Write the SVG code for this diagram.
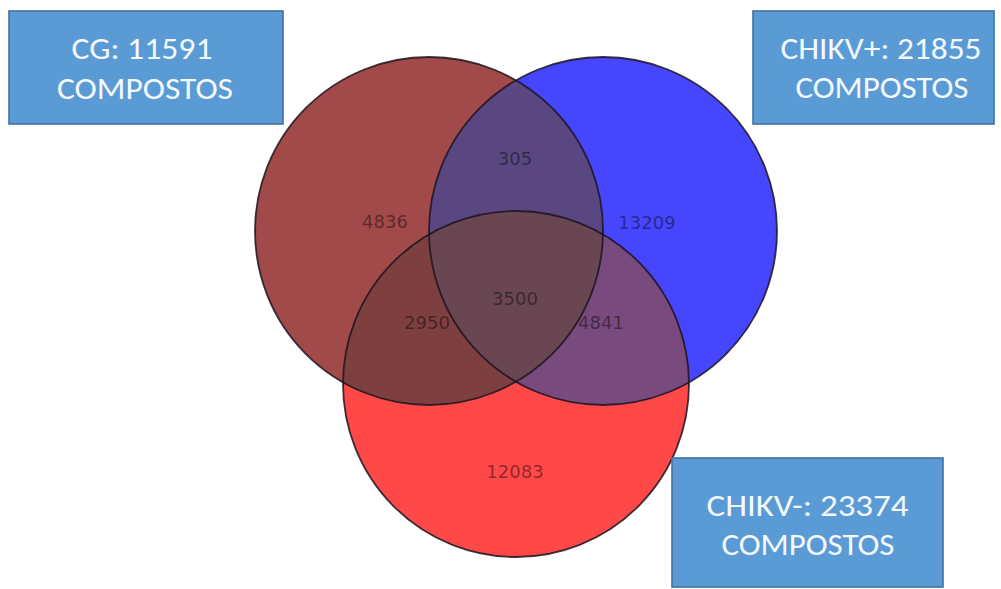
<svg xmlns="http://www.w3.org/2000/svg" width="1001" height="589" viewBox="0 0 1001 589">
  <style>
    .set-edge { fill: none; stroke: #1c1420; stroke-opacity: 0.85; stroke-width: 1.8; }
    .count { font-family: "DejaVu Sans", "Liberation Sans", sans-serif; font-size: 18px; fill: #000; fill-opacity: 0.45; text-anchor: middle; }
    .box { fill: #5b9bd5; stroke: #41719c; stroke-width: 1.6; }
    .box-text { font-family: Carlito, "Open Sans", "Liberation Sans", sans-serif; font-size: 31px; fill: #f4f9ff; text-anchor: middle; }
  </style>
  <defs>
    <clipPath id="clip-cg"><circle cx="429" cy="231" r="174"/></clipPath>
    <clipPath id="clip-pos"><circle cx="603" cy="231" r="174"/></clipPath>
    <clipPath id="clip-neg"><circle cx="516" cy="384" r="173"/></clipPath>
  </defs>

  <rect x="0" y="0" width="1001" height="589" fill="#ffffff"/>

  <!-- Venn sets: base fills -->
  <g id="set-cg">
    <circle cx="429" cy="231" r="174" fill="#a24a4a"/>
  </g>
  <g id="set-chikv-pos">
    <circle cx="603" cy="231" r="174" fill="#4646ff"/>
  </g>
  <g id="set-chikv-neg">
    <circle cx="516" cy="384" r="173" fill="#ff4848"/>
  </g>

  <!-- pairwise and triple overlaps -->
  <g id="overlaps">
    <g clip-path="url(#clip-cg)"><circle cx="603" cy="231" r="174" fill="#5a4782"/></g>
    <g clip-path="url(#clip-cg)"><circle cx="516" cy="384" r="173" fill="#7e3f40"/></g>
    <g clip-path="url(#clip-pos)"><circle cx="516" cy="384" r="173" fill="#784a7e"/></g>
    <g clip-path="url(#clip-cg)"><g clip-path="url(#clip-pos)"><circle cx="516" cy="384" r="173" fill="#6a4652"/></g></g>
  </g>

  <!-- outlines -->
  <g id="set-edges">
    <circle class="set-edge" cx="429" cy="231" r="174"/>
    <circle class="set-edge" cx="603" cy="231" r="174"/>
    <circle class="set-edge" cx="516" cy="384" r="173"/>
  </g>

  <!-- region counts -->
  <g id="counts">
    <text class="count" x="515" y="165">305</text>
    <text class="count" x="385" y="228">4836</text>
    <text class="count" x="647" y="229">13209</text>
    <text class="count" x="515" y="305">3500</text>
    <text class="count" x="427" y="329">2950</text>
    <text class="count" x="601" y="329">4841</text>
    <text class="count" x="515" y="478">12083</text>
  </g>

  <g id="connectors"/>

  <!-- set labels -->
  <g id="label-cg">
    <rect class="box" x="9" y="11" width="274" height="113"/>
    <text class="box-text" x="142" y="59" textLength="141" lengthAdjust="spacingAndGlyphs">CG: 11591</text>
    <text class="box-text" x="145" y="99" textLength="176" lengthAdjust="spacingAndGlyphs">COMPOSTOS</text>
  </g>
  <g id="label-chikv-pos">
    <rect class="box" x="753" y="11" width="241" height="113"/>
    <text class="box-text" x="881" y="59" textLength="201" lengthAdjust="spacingAndGlyphs">CHIKV+: 21855</text>
    <text class="box-text" x="882" y="98" textLength="173" lengthAdjust="spacingAndGlyphs">COMPOSTOS</text>
  </g>
  <g id="label-chikv-neg">
    <rect class="box" x="672" y="458" width="271" height="129"/>
    <text class="box-text" x="807.5" y="516" textLength="202" lengthAdjust="spacingAndGlyphs">CHIKV-: 23374</text>
    <text class="box-text" x="808" y="555" textLength="173" lengthAdjust="spacingAndGlyphs">COMPOSTOS</text>
  </g>
</svg>
